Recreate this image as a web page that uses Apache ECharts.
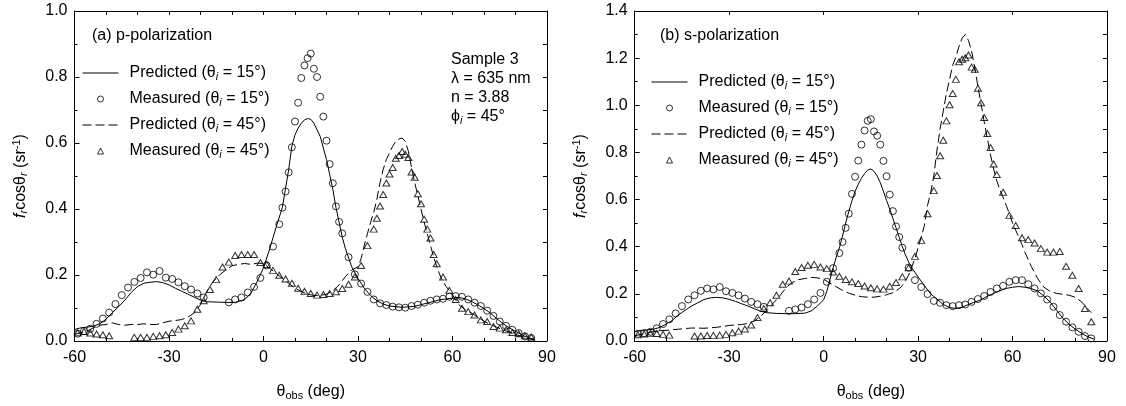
<!DOCTYPE html>
<html><head><meta charset="utf-8">
<script src="https://cdn.jsdelivr.net/npm/echarts@6/dist/echarts.min.js"></script>
<style>html,body{margin:0;padding:0;background:#fff}#c{width:1126px;height:406px}</style>
</head><body><div id="c"></div>
<script>
// ---------- data (θobs in deg, fr·cosθr in sr^-1) ----------
const seriesNames = ['Predicted (θi = 15°)', 'Measured (θi = 15°)', 'Predicted (θi = 45°)', 'Measured (θi = 45°)'];
const xTicks = [-60, -30, 0, 30, 60, 90];
const yTicksA = [0, 0.2, 0.4, 0.6, 0.8, 1.0];
const yTicksB = [0, 0.2, 0.4, 0.6, 0.8, 1.0, 1.2, 1.4];

// (a) p-polarization
const pPred15 = [[-60,0.035],[-58,0.040],[-56,0.042],[-54,0.045],[-52,0.052],[-50,0.066],[-48,0.086],[-46,0.104],[-44,0.124],[-42,0.147],[-40,0.165],[-38,0.175],[-36,0.178],[-34,0.180],[-32,0.177],[-30,0.170],[-28,0.160],[-26,0.151],[-24,0.142],[-22,0.133],[-20,0.124],[-18,0.119],[-15,0.118],[-12,0.117],[-9,0.117],[-6,0.125],[-4,0.145],[-2,0.180],[0,0.222],[2,0.280],[4,0.345],[6,0.405],[8,0.520],[9,0.590],[10,0.625],[11,0.645],[12,0.660],[13,0.670],[14,0.674],[15,0.672],[16,0.660],[17,0.640],[18,0.620],[19,0.585],[20,0.550],[21,0.505],[22,0.460],[23,0.405],[24,0.360],[25,0.315],[26,0.280],[28,0.225],[30,0.190],[32,0.160],[34,0.138],[36,0.122],[38,0.112],[40,0.106],[44,0.102],[48,0.105],[52,0.115],[56,0.125],[60,0.130],[62,0.132],[64,0.128],[66,0.120],[68,0.110],[70,0.098],[72,0.085],[74,0.068],[76,0.053],[78,0.040],[80,0.029],[82,0.019],[84,0.010],[86,0.005]];
const pMeas15 = [[-59,0.022],[-57,0.030],[-55,0.037],[-53,0.052],[-51,0.068],[-49,0.086],[-47,0.112],[-45,0.139],[-43,0.162],[-41,0.179],[-39,0.191],[-37,0.208],[-35,0.201],[-33,0.212],[-31,0.192],[-29,0.188],[-27,0.178],[-25,0.166],[-23,0.156],[-21,0.144],[-19,0.132],[-11,0.117],[-9,0.126],[-7,0.132],[-5,0.147],[-3,0.164],[-1,0.191],[1,0.229],[3,0.286],[5,0.354],[6,0.404],[7,0.453],[8,0.511],[9,0.587],[10,0.665],[11,0.722],[12,0.797],[13,0.835],[14,0.857],[15,0.871],[16,0.825],[17,0.800],[18,0.740],[19,0.680],[20,0.607],[21,0.536],[22,0.478],[23,0.408],[24,0.361],[25,0.326],[27,0.254],[29,0.202],[31,0.174],[33,0.149],[35,0.126],[37,0.114],[39,0.109],[41,0.104],[43,0.102],[45,0.101],[47,0.106],[49,0.110],[51,0.116],[53,0.122],[55,0.126],[57,0.128],[59,0.134],[61,0.136],[63,0.134],[65,0.126],[67,0.116],[69,0.106],[71,0.092],[73,0.076],[75,0.059],[77,0.046],[79,0.034],[81,0.024],[83,0.014],[85,0.009]];
const pPred45 = [[-60,0.020],[-58,0.025],[-56,0.030],[-54,0.040],[-52,0.048],[-50,0.050],[-48,0.055],[-46,0.050],[-44,0.048],[-42,0.050],[-40,0.050],[-38,0.052],[-36,0.050],[-34,0.050],[-32,0.055],[-30,0.060],[-28,0.062],[-26,0.065],[-24,0.072],[-22,0.085],[-20,0.110],[-18,0.150],[-16,0.180],[-14,0.200],[-12,0.215],[-10,0.228],[-8,0.232],[-6,0.235],[-4,0.232],[-2,0.236],[0,0.235],[2,0.220],[4,0.205],[6,0.190],[8,0.175],[10,0.160],[12,0.150],[14,0.142],[16,0.138],[18,0.138],[20,0.142],[22,0.152],[24,0.170],[26,0.195],[28,0.215],[30,0.225],[31,0.250],[32,0.290],[33,0.325],[34,0.360],[35,0.390],[36,0.430],[37,0.480],[38,0.520],[39,0.550],[40,0.570],[41,0.590],[42,0.605],[43,0.612],[44,0.615],[45,0.605],[46,0.575],[47,0.525],[48,0.480],[49,0.440],[50,0.400],[51,0.360],[52,0.325],[53,0.290],[54,0.255],[55,0.225],[56,0.200],[57,0.180],[58,0.165],[60,0.140],[62,0.110],[64,0.095],[66,0.085],[68,0.072],[70,0.060],[72,0.050],[74,0.042],[76,0.034],[78,0.027],[80,0.020],[82,0.014],[84,0.008],[86,0.004]];
const pMeas45 = [[-59,0.025],[-57,0.029],[-55,0.024],[-53,0.021],[-51,0.019],[-49,0.016],[-41,0.011],[-39,0.011],[-37,0.011],[-35,0.014],[-33,0.016],[-31,0.019],[-29,0.026],[-27,0.036],[-25,0.046],[-23,0.061],[-21,0.096],[-19,0.122],[-17,0.156],[-15,0.186],[-13,0.224],[-11,0.239],[-9,0.259],[-7,0.262],[-5,0.262],[-3,0.262],[-1,0.238],[1,0.232],[3,0.214],[5,0.199],[7,0.188],[9,0.175],[11,0.160],[13,0.151],[15,0.144],[17,0.139],[19,0.141],[21,0.144],[23,0.149],[25,0.159],[27,0.172],[29,0.194],[31,0.229],[33,0.289],[35,0.339],[36,0.372],[37,0.409],[38,0.444],[39,0.479],[40,0.506],[41,0.526],[42,0.554],[43,0.562],[44,0.574],[45,0.566],[46,0.556],[47,0.512],[48,0.496],[49,0.446],[50,0.416],[51,0.369],[52,0.339],[53,0.312],[54,0.262],[55,0.234],[57,0.194],[59,0.154],[61,0.126],[63,0.099],[65,0.089],[67,0.079],[69,0.064],[71,0.059],[73,0.044],[75,0.039],[77,0.034],[79,0.026],[81,0.022],[83,0.016],[85,0.012]];

// (b) s-polarization
const sPred15 = [[-60,0.040],[-58,0.045],[-56,0.047],[-54,0.050],[-52,0.058],[-50,0.072],[-48,0.088],[-46,0.112],[-44,0.130],[-42,0.148],[-40,0.162],[-38,0.176],[-36,0.183],[-34,0.185],[-32,0.183],[-30,0.177],[-28,0.168],[-26,0.158],[-24,0.148],[-22,0.137],[-20,0.126],[-18,0.120],[-15,0.117],[-12,0.116],[-9,0.116],[-6,0.118],[-4,0.127],[-2,0.148],[0,0.175],[1,0.210],[2,0.260],[3,0.310],[4,0.355],[5,0.395],[6,0.445],[7,0.500],[8,0.550],[9,0.595],[10,0.635],[11,0.665],[12,0.690],[13,0.710],[14,0.725],[15,0.730],[16,0.720],[17,0.700],[18,0.672],[19,0.635],[20,0.596],[21,0.560],[22,0.520],[23,0.480],[24,0.440],[25,0.400],[26,0.365],[27,0.335],[28,0.310],[30,0.272],[32,0.235],[34,0.200],[36,0.178],[38,0.155],[40,0.142],[42,0.138],[44,0.143],[46,0.155],[48,0.165],[50,0.175],[52,0.190],[54,0.202],[56,0.213],[58,0.223],[60,0.228],[62,0.231],[64,0.228],[66,0.222],[68,0.212],[70,0.190],[72,0.165],[74,0.130],[76,0.097],[78,0.070],[80,0.050],[82,0.032],[84,0.017],[86,0.008]];
const sMeas15 = [[-59,0.030],[-57,0.033],[-55,0.039],[-53,0.054],[-51,0.072],[-49,0.092],[-47,0.117],[-45,0.148],[-43,0.176],[-41,0.194],[-39,0.213],[-37,0.223],[-35,0.219],[-33,0.229],[-31,0.211],[-29,0.204],[-27,0.194],[-25,0.180],[-23,0.166],[-21,0.156],[-19,0.145],[-11,0.128],[-9,0.134],[-7,0.142],[-5,0.156],[-3,0.176],[-1,0.204],[1,0.251],[3,0.309],[5,0.373],[6,0.420],[7,0.480],[8,0.540],[9,0.624],[10,0.697],[11,0.765],[12,0.833],[13,0.893],[14,0.934],[15,0.941],[16,0.889],[17,0.871],[18,0.833],[19,0.764],[20,0.699],[21,0.621],[22,0.551],[23,0.486],[24,0.441],[25,0.396],[27,0.311],[29,0.258],[31,0.229],[33,0.199],[35,0.170],[37,0.162],[39,0.152],[41,0.148],[43,0.152],[45,0.155],[47,0.166],[49,0.178],[51,0.191],[53,0.208],[55,0.223],[57,0.234],[59,0.251],[61,0.258],[63,0.258],[65,0.241],[67,0.223],[69,0.202],[71,0.176],[73,0.145],[75,0.110],[77,0.082],[79,0.058],[81,0.039],[83,0.021],[85,0.011]];
const sPred45 = [[-60,0.022],[-58,0.028],[-56,0.034],[-54,0.040],[-52,0.044],[-50,0.045],[-48,0.048],[-46,0.050],[-44,0.053],[-42,0.055],[-40,0.055],[-38,0.054],[-36,0.056],[-34,0.058],[-32,0.062],[-30,0.066],[-28,0.068],[-26,0.070],[-24,0.075],[-22,0.085],[-20,0.105],[-18,0.130],[-16,0.160],[-14,0.190],[-12,0.225],[-10,0.248],[-8,0.260],[-6,0.265],[-4,0.270],[-2,0.268],[0,0.262],[2,0.245],[4,0.230],[6,0.215],[8,0.203],[10,0.194],[12,0.188],[14,0.186],[16,0.186],[18,0.190],[20,0.196],[22,0.205],[24,0.222],[25,0.235],[26,0.255],[27,0.280],[28,0.315],[29,0.350],[30,0.395],[31,0.440],[32,0.490],[33,0.575],[34,0.630],[35,0.700],[36,0.810],[37,0.900],[38,0.976],[39,1.050],[40,1.110],[41,1.170],[42,1.205],[43,1.250],[44,1.285],[45,1.300],[46,1.275],[47,1.230],[48,1.160],[49,1.080],[50,1.005],[51,0.930],[52,0.860],[53,0.790],[54,0.730],[55,0.680],[56,0.640],[57,0.610],[58,0.575],[59,0.540],[60,0.500],[61,0.470],[62,0.440],[63,0.410],[64,0.375],[65,0.345],[66,0.315],[67,0.290],[68,0.265],[69,0.245],[70,0.228],[72,0.210],[74,0.202],[76,0.198],[78,0.194],[80,0.185],[82,0.165],[84,0.135],[85,0.120]];
const sMeas45 = [[-59,0.026],[-57,0.030],[-55,0.033],[-53,0.032],[-51,0.028],[-49,0.025],[-41,0.021],[-39,0.021],[-37,0.023],[-35,0.024],[-33,0.025],[-31,0.028],[-29,0.035],[-27,0.042],[-25,0.051],[-23,0.068],[-21,0.100],[-19,0.138],[-17,0.162],[-15,0.194],[-13,0.241],[-11,0.254],[-9,0.295],[-7,0.312],[-5,0.321],[-3,0.325],[-1,0.314],[1,0.307],[3,0.293],[5,0.275],[7,0.261],[9,0.251],[11,0.244],[13,0.233],[15,0.226],[17,0.221],[19,0.220],[21,0.232],[23,0.248],[25,0.272],[27,0.311],[29,0.359],[31,0.427],[33,0.540],[35,0.638],[36,0.702],[37,0.786],[38,0.852],[39,0.934],[40,1.002],[41,1.050],[42,1.110],[43,1.185],[44,1.195],[45,1.202],[46,1.213],[47,1.162],[48,1.153],[49,1.072],[50,1.011],[51,0.948],[52,0.880],[53,0.821],[54,0.751],[55,0.706],[57,0.631],[59,0.533],[61,0.490],[63,0.438],[65,0.430],[67,0.416],[69,0.392],[71,0.377],[73,0.377],[75,0.380],[77,0.317],[79,0.279],[81,0.223],[83,0.138],[85,0.082]];

// ---------- chart ----------
const FONT = '"Liberation Sans", Arial, Helvetica, sans-serif';
const FS = 16;
const chart = echarts.init(document.getElementById('c'), null, {renderer: 'canvas'});

const grids = [
  {left: 74.5, top: 11, width: 472.5, height: 330},
  {left: 634.7, top: 11, width: 472.3, height: 330}
];
const yMax = [1.0, 1.4];

const subRich = {
  n: {fontFamily: FONT, fontSize: FS, color: '#000', lineHeight: 18},
  it: {fontFamily: FONT, fontSize: FS, fontStyle: 'italic', color: '#000', lineHeight: 18},
  s: {fontFamily: FONT, fontSize: 11, fontStyle: 'italic', color: '#000', lineHeight: 12, verticalAlign: 'bottom'},
  su: {fontFamily: FONT, fontSize: 11, color: '#000', lineHeight: 12, verticalAlign: 'bottom'},
  sp: {fontFamily: FONT, fontSize: 11, color: '#000', lineHeight: 12, verticalAlign: 'top'}
};

const xAxes = [], yAxes = [];
grids.forEach((g, i) => {
  xAxes.push({
    gridIndex: i, type: 'value', min: xTicks[0], max: xTicks[xTicks.length - 1], interval: 30,
    position: 'bottom',
    axisLine: {onZero: false, lineStyle: {color: '#000', width: 1}},
    axisTick: {inside: true, length: 5, lineStyle: {color: '#000'}},
    minorTick: {show: true, splitNumber: 3, length: 3, lineStyle: {color: '#000'}},
    splitLine: {show: false},
    axisLabel: {color: '#000', fontFamily: FONT, fontSize: FS, margin: 9},
    name: '{n|θ}{su|obs}{n| (deg)}', nameLocation: 'middle', nameGap: 42,
    nameTextStyle: {rich: subRich}
  });
  xAxes.push({
    gridIndex: i, type: 'value', min: xTicks[0], max: xTicks[xTicks.length - 1], interval: i === 0 ? 10 : 30,
    position: 'top',
    axisLine: {onZero: false, lineStyle: {color: '#000', width: 1}},
    axisTick: {inside: true, length: 4, lineStyle: {color: '#000'}},
    splitLine: {show: false}, axisLabel: {show: false}
  });
  yAxes.push({
    gridIndex: i, type: 'value', min: 0, max: yMax[i], interval: 0.2,
    position: 'left',
    axisLine: {onZero: false, lineStyle: {color: '#000', width: 1}},
    axisTick: {inside: true, length: 5, lineStyle: {color: '#000'}},
    minorTick: {show: true, splitNumber: 2, length: 3, lineStyle: {color: '#000'}},
    splitLine: {show: false},
    axisLabel: {color: '#000', fontFamily: FONT, fontSize: FS, margin: 7, formatter: v => v.toFixed(1)},
    name: '{it|f}{s|r}{n|cosθ}{s|r}{n| (sr}{sp|-1}{n|)}', nameLocation: 'middle', nameRotate: 90, nameGap: 45,
    nameTextStyle: {rich: subRich}
  });
  yAxes.push({
    gridIndex: i, type: 'value', min: 0, max: yMax[i], interval: 0.1,
    position: 'right',
    axisLine: {onZero: false, lineStyle: {color: '#000', width: 1}},
    axisTick: {inside: true, length: 4, lineStyle: {color: '#000'}},
    splitLine: {show: false}, axisLabel: {show: false}
  });
});

function lineS(name, data, gi, dashed) {
  return {name, type: 'line', xAxisIndex: gi * 2, yAxisIndex: gi * 2, data, symbol: 'none',
    lineStyle: {color: '#000', width: 1, type: dashed ? [9, 4] : 'solid'}, itemStyle: {color: '#000'},
    z: 2, animation: false};
}
function scatS(name, data, gi, sym) {
  return {name, type: 'scatter', xAxisIndex: gi * 2, yAxisIndex: gi * 2, data, symbol: sym,
    symbolSize: sym === 'circle' ? 7 : [7, 6],
    itemStyle: {color: 'rgba(255,255,255,0)', borderColor: '#000', borderWidth: 1},
    z: 3, animation: false};
}
const series = [
  lineS(seriesNames[0], pPred15, 0, false), scatS(seriesNames[1], pMeas15, 0, 'circle'),
  lineS(seriesNames[2], pPred45, 0, true), scatS(seriesNames[3], pMeas45, 0, 'triangle'),
  lineS(seriesNames[0], sPred15, 1, false), scatS(seriesNames[1], sMeas15, 1, 'circle'),
  lineS(seriesNames[2], sPred45, 1, true), scatS(seriesNames[3], sMeas45, 1, 'triangle')
];

const legendRich = {
  n: {fontFamily: FONT, fontSize: FS, color: '#000', lineHeight: 18},
  s: {fontFamily: FONT, fontSize: 11, fontStyle: 'italic', color: '#000', lineHeight: 12, verticalAlign: 'bottom'}
};
function legendFmt(name) {
  const parts = name.split('θi');
  return '{n|' + parts[0] + 'θ}{s|i}{n|' + parts[1] + '}';
}
// one legend entry per component, so each icon keeps its own size
function mkLegendEntry(name, isLine, lineLeft, rowCenter, textLeft) {
  const iw = isLine ? 36 : 6;
  const left = isLine ? lineLeft : lineLeft + 18 - 3;
  return {
    data: [name], orient: 'vertical', left, top: rowCenter - 9,
    padding: 0, itemWidth: iw, itemHeight: 6, selectedMode: false, formatter: legendFmt,
    symbolKeepAspect: true,
    lineStyle: {width: 1},
    itemStyle: isLine ? {color: 'rgba(0,0,0,0)', borderWidth: 0, borderColor: 'rgba(0,0,0,0)', opacity: 0}
                      : {color: 'rgba(255,255,255,0)', borderColor: '#000', borderWidth: 1},
    textStyle: {rich: legendRich, padding: [0, 0, 0, textLeft - (left + iw + 5)]}
  };
}
const legendRowsA = [74, 100, 126, 152];
const legendRowsB = [83, 109, 135, 161];
const legends = [];
seriesNames.forEach((nm, k) => {
  const isLine = k % 2 === 0;
  legends.push(mkLegendEntry(nm, isLine, 82, legendRowsA[k], 129));
  legends.push(mkLegendEntry(nm, isLine, 651, legendRowsB[k], 698));
});

function txt(x, y, text, rich) {
  return {type: 'text', x, y, style: {text, fontFamily: FONT, fontSize: FS, fill: '#000', verticalAlign: 'middle', rich: rich || undefined}};
}
const graphicRich = {
  n: {fontFamily: FONT, fontSize: FS, color: '#000', lineHeight: 18},
  s: {fontFamily: FONT, fontSize: 11, fontStyle: 'italic', color: '#000', lineHeight: 12, verticalAlign: 'bottom'}
};

chart.setOption({
  animation: false,
  backgroundColor: '#fff',
  grid: grids,
  xAxis: xAxes,
  yAxis: yAxes,
  series,
  legend: legends,
  graphic: [
    txt(92, 36, '(a) p-polarization'),
    txt(660, 36, '(b) s-polarization'),
    txt(451, 60, 'Sample 3'),
    txt(451, 79, 'λ = 635 nm'),
    txt(451, 98, 'n = 3.88'),
    txt(451, 117, '{n|ϕ}{s|i}{n| = 45°}', graphicRich)
  ]
});
</script></body></html>
